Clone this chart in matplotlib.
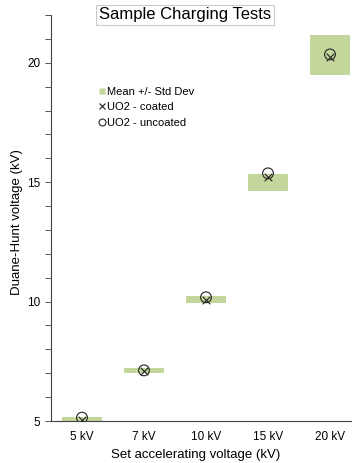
import matplotlib
matplotlib.use("Agg")
import matplotlib.pyplot as plt
from matplotlib.lines import Line2D
import numpy as np

plt.rcParams['font.family'] = ['Liberation Sans', 'DejaVu Sans']

categories = ["5 kV", "7 kV", "10 kV", "15 kV", "20 kV"]
box_low = [5.0, 7.0, 9.95, 14.65, 19.5]
box_high = [5.18, 7.2, 10.22, 15.35, 21.15]
coated = [5.05, 7.1, 10.08, 15.2, 20.25]
uncoated = [5.14, 7.12, 10.18, 15.37, 20.35]

fig = plt.figure(figsize=(3.52, 4.63), dpi=100)
ax = fig.add_axes([51/352, (463-421)/463, 310/352, (421-15)/463])

x = np.arange(len(categories))
green = '#c3d69b'
ax.bar(x, np.array(box_high) - np.array(box_low), bottom=box_low, width=0.66,
       color=green, edgecolor='none', zorder=1)
ax.scatter(x, uncoated, s=60, facecolors='none', edgecolors='#222222', linewidths=0.8, zorder=3)
ax.scatter(x, coated, s=30, marker='x', color='#222222', linewidths=0.8, zorder=4)

ax.set_xlim(-0.5, 4.5)
ax.set_ylim(5, 22)
ax.set_yticks([5, 10, 15, 20])
ax.set_yticks(np.arange(5, 22.01, 1), minor=True)
ax.set_xticks(x)
ax.set_xticklabels(categories)
ax.tick_params(axis='x', length=0, labelsize=8.5, pad=7)
ax.tick_params(axis='y', which='both', length=4, width=0.7, colors='#555555', labelsize=8.5, labelcolor='black')
for s in ['top', 'right']:
    ax.spines[s].set_visible(False)
for s in ['left', 'bottom']:
    ax.spines[s].set_color('#444444')
    ax.spines[s].set_linewidth(0.8)

fig.text(17/352, 1 - 222/463, "Duane-Hunt voltage (kV)", fontsize=9.5, ha='center', va='center', rotation=90)
fig.text(196/352, 1 - 455/463, "Set accelerating voltage (kV)", fontsize=9.5, ha='center', va='center')

fig.text(185/352, 1 - 15/463, "Sample Charging Tests", fontsize=12, ha='center', va='center',
         bbox=dict(boxstyle='square,pad=0.15', facecolor='white', edgecolor='#cccccc', linewidth=0.8))

handles = [
    Line2D([], [], marker='s', linestyle='none', markerfacecolor=green, markeredgecolor='none', markersize=5),
    Line2D([], [], marker='x', linestyle='none', color='#222222', markersize=5, markeredgewidth=0.8),
    Line2D([], [], marker='o', linestyle='none', markerfacecolor='none', markeredgecolor='#222222', markersize=5, markeredgewidth=0.8),
]
labels = ["Mean +/- Std Dev", "UO2 - coated", "UO2 - uncoated"]
fig.legend(handles, labels, loc='upper left', bbox_to_anchor=(93/352, 1 - 81/463), frameon=False,
           fontsize=8, handlelength=0.6, handletextpad=0.2, labelspacing=0.5, borderpad=0)

fig.savefig("out.png", dpi=100)
